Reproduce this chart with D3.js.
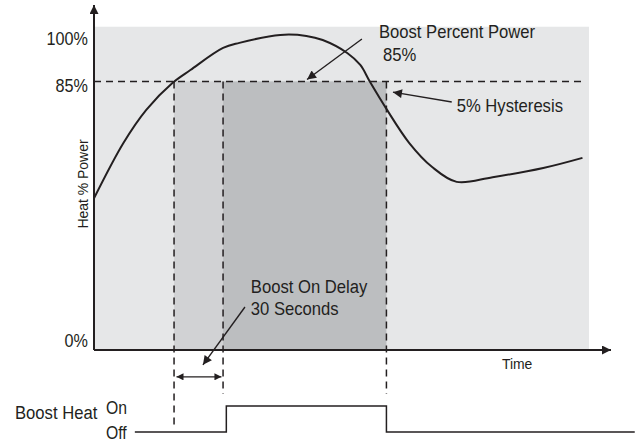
<!DOCTYPE html>
<html><head><meta charset="utf-8">
<script src="https://cdn.jsdelivr.net/npm/d3@7"></script>
<style>
body{margin:0;background:#fff}
svg text{font-family:"Liberation Sans",Arial,sans-serif;fill:#231f20}
</style></head><body>
<svg id="chart" width="638" height="442"></svg>
<script>
// heat % power over time (seconds)
const curveTime  = [0, 18, 32, 48, 59, 79, 89, 114, 130, 140, 155, 163, 169, 179, 193, 207, 222, 244, 275, 299];
const curvePower = [48, 65.5, 76, 84.5, 88.6, 95.6, 97.2, 99.7, 99.4, 98.1, 94, 90.2, 84.8, 76.3, 65.5, 57.9, 53.2, 54.7, 57.6, 60.8];
const powerTicks = [0, 85, 100];
const boostLevel = 85;
const boostStart = 49, delaySec = 30, boostEnd = 179;
// boost heat on/off signal
const heatTime  = [25, 81, 179, 331];
const heatState = [0, 1, 0, 0];
const stateLabels = ['Off', 'On'];

const ink = '#231f20';
const narrow = 0.9; // condensed look
const svg = d3.select('#chart');
const x = d3.scaleLinear().domain([0, 303]).range([94, 589]);
const y = d3.scaleLinear().domain([0, 100]).range([350, 34]);
const sig = d3.scaleLinear().domain([0, 1]).range([432, 406]);

const defs = svg.append('defs');
function marker(id, w, h){
    defs.append('marker').attr('id', id)
        .attr('viewBox', '0 -5 10 10').attr('refX', 10).attr('refY', 0)
        .attr('markerUnits', 'userSpaceOnUse').attr('markerWidth', w).attr('markerHeight', h)
        .attr('orient', 'auto-start-reverse')
        .append('path').attr('d', 'M0,-5L10,0L0,5Z').attr('fill', ink);
}
marker('axisHead', 17, 9);
marker('head', 14, 9);
marker('smallHead', 11, 7);

// shaded zones
svg.append('rect').attr('x', x(0)).attr('y', y(102.3))
    .attr('width', x(303) - x(0)).attr('height', y(0) - y(102.3)).attr('fill', '#e6e7e8');
svg.append('rect').attr('x', x(boostStart)).attr('y', y(boostLevel))
    .attr('width', x(boostStart + delaySec) - x(boostStart)).attr('height', y(0) - y(boostLevel)).attr('fill', '#d1d2d4');
svg.append('rect').attr('x', x(boostStart + delaySec)).attr('y', y(boostLevel))
    .attr('width', x(boostEnd) - x(boostStart + delaySec)).attr('height', y(0) - y(boostLevel)).attr('fill', '#bcbec0');

// dashed guides
const dash = g => g.attr('stroke', ink).attr('stroke-width', 1.5).attr('stroke-dasharray', '7 5').attr('fill', 'none');
svg.append('line').attr('x1', x(0)).attr('x2', x(300)).attr('y1', y(boostLevel)).attr('y2', y(boostLevel)).call(dash);
const guides = [{t: boostStart, bottom: 427}, {t: boostStart + delaySec, bottom: 394}, {t: boostEnd, bottom: 394}];
svg.selectAll('.guide').data(guides).join('line').attr('class', 'guide')
    .attr('x1', d => x(d.t)).attr('x2', d => x(d.t))
    .attr('y1', y(boostLevel)).attr('y2', d => d.bottom).call(dash);

// curve
const pts = curveTime.map((t, i) => [t, curvePower[i]]);
svg.append('path').datum(pts)
    .attr('d', d3.line().x(d => x(d[0])).y(d => y(d[1])).curve(d3.curveCatmullRom.alpha(0.5)))
    .attr('fill', 'none').attr('stroke', ink).attr('stroke-width', 2);

// axes
svg.append('line').attr('x1', x(0)).attr('x2', x(0)).attr('y1', y(0)).attr('y2', 5)
    .attr('stroke', ink).attr('stroke-width', 2).attr('marker-end', 'url(#axisHead)');
svg.append('line').attr('x1', x(0)).attr('x2', 611).attr('y1', y(0)).attr('y2', y(0))
    .attr('stroke', ink).attr('stroke-width', 2).attr('marker-end', 'url(#axisHead)');

const yAxis = svg.append('g').attr('transform', `translate(${x(0)},0)`)
    .call(d3.axisLeft(y).tickValues(powerTicks).tickSize(0).tickPadding(6).tickFormat(d => d + '%'));
yAxis.select('.domain').remove();
yAxis.selectAll('text').attr('x', -6 / narrow).attr('dy', d => d === 0 ? -4 : 10)
    .attr('transform', `scale(${narrow},1)`)
    .style('font-size', '18px').style('font-family', null).attr('fill', ink);

// text helper: place at pixel point, squeeze horizontally
function txt(px, py, s, size, anchor, rot){
    return svg.append('text')
        .attr('transform', `translate(${px},${py})${rot ? ` rotate(${rot})` : ''} scale(${narrow},1)`)
        .attr('text-anchor', anchor || 'start').style('font-size', size + 'px').text(s);
}
txt(88, 184, 'Heat % Power', 15.5, 'middle', -90);
txt(x(259), 369, 'Time', 15.5, 'middle');

// annotations
const arrow = (t1, p1, t2, p2, head) => svg.append('line')
    .attr('x1', x(t1)).attr('y1', y(p1)).attr('x2', x(t2)).attr('y2', y(p2))
    .attr('stroke', ink).attr('stroke-width', 1.4).attr('marker-end', `url(#${head})`);
arrow(164, 98.4, 130.4, 85.6, 'head');
arrow(219, 78.5, 183, 81.6, 'head');
arrow(92.4, 13.6, 66.7, -4.7, 'head');
arrow(50.5, -8.5, 78, -8.5, 'smallHead').attr('marker-start', 'url(#smallHead)');

txt(x(174.4), y(98.7), 'Boost Percent Power', 18.5);
txt(x(176.9), y(91.5), '85%', 18.5);
txt(x(222), y(75.3), '5% Hysteresis', 18.5);
txt(x(96), y(18), 'Boost On Delay', 18.5);
txt(x(96), y(11.1), '30 Seconds', 18.5);

// boost heat signal
const sigPts = heatTime.map((t, i) => [t, heatState[i]]);
svg.append('path').datum(sigPts)
    .attr('d', d3.line().x(d => x(d[0])).y(d => sig(d[1])).curve(d3.curveStepAfter))
    .attr('fill', 'none').attr('stroke', ink).attr('stroke-width', 1.5);
txt(15, 419, 'Boost Heat', 18.5);
stateLabels.forEach((s, i) => txt(106, i ? 414 : 439, s, 17.5));
</script>
</body></html>
